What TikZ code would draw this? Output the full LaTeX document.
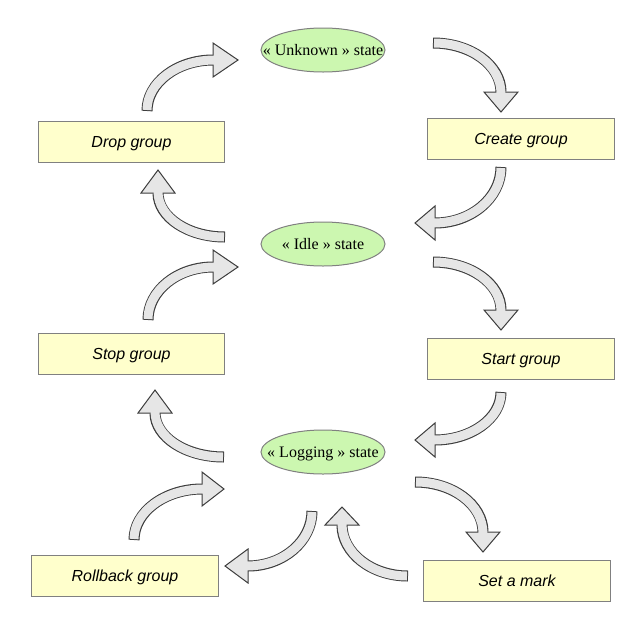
\documentclass[tikz,border=0pt]{standalone}
\usepackage{fontspec}
\setmainfont{Liberation Serif}
\setsansfont{Liberation Sans}
\usetikzlibrary{calc,shapes.geometric}
\definecolor{stateColor}{HTML}{CCF7B0}
\definecolor{actionColor}{HTML}{FFFFCC}
\definecolor{frameColor}{HTML}{808080}
\definecolor{bendFill}{HTML}{E6E6E6}
\definecolor{bendLine}{HTML}{3C3C3C}
% curved block arrow: name, start, corner, shaft end, tip
\newcommand{\bendarrow}[5]{%
  \coordinate (#1-s) at (#2);
  \coordinate (#1-c) at (#3);
  \coordinate (#1-e) at (#4);
  \coordinate (#1-t) at (#5);
  \draw[bendout] (#1-s) .. controls ($(#1-s)!0.55!(#1-c)$) and ($(#1-e)!0.55!(#1-c)$) .. (#1-e);
  \filldraw[bendhead] ($(#1-e)!12.75pt!90:(#1-t)$) -- (#1-t) -- ($(#1-e)!12.75pt!-90:(#1-t)$) -- cycle;
  \draw[bendin] (#1-s) .. controls ($(#1-s)!0.55!(#1-c)$) and ($(#1-e)!0.55!(#1-c)$) .. (#1-e);
}

\begin{document}
\begin{tikzpicture}[x=0.75pt,y=-0.75pt,every node/.style={font=\fontsize{12}{14}\selectfont,text height=10.9pt,text depth=2.5pt}]
  \tikzstyle{base}=[draw=frameColor,line width=0.75pt]
  \tikzstyle{state}=[base,ellipse,fill=stateColor,minimum width=93pt,minimum height=33pt,inner xsep=-13pt,inner ysep=0pt]
  \tikzstyle{action}=[base,rectangle,fill=actionColor,minimum width=140pt,minimum height=30.75pt,font=\sffamily\itshape\fontsize{12}{14}\selectfont]
  \tikzstyle{bendout}=[draw=bendLine,line width=8.25pt]
  \tikzstyle{bendin}=[draw=bendFill,line width=6.75pt,shorten <=0.75pt,shorten >=-1pt]
  \tikzstyle{bendhead}=[fill=bendFill,draw=bendLine,line width=0.75pt,line join=miter]
  \useasboundingbox (0,0) rectangle (639,640);
  % All states
  \node (unknown) [state] at (323,50)  {« Unknown » state};
  \node (idle)    [state] at (323,244) {« Idle » state};
  \node (logging) [state] at (323,452) {« Logging » state};
  % All actions
  \node (drop)     [action] at (131.5,141.5) {Drop group};
  \node (create)   [action] at (521,139)     {Create group};
  \node (stop)     [action] at (131.5,353.5) {Stop group};
  \node (start)    [action] at (521,358.5)   {Start group};
  \node (rollback) [action] at (125,575.5)   {Rollback group};
  \node (setmark)  [action] at (517,580.5)   {Set a mark};
  % Curved arrows
  \bendarrow{dropUnknown}{147,111}{147,60}{213,60}{238,60}
  \bendarrow{unknownCreate}{433,43}{501,43}{501,92}{501,112}
  \bendarrow{createIdle}{501,167}{501,223}{435,223}{415,223}
  \bendarrow{idleDrop}{225,237}{158,237}{158,193}{158,170}
  \bendarrow{stopIdle}{148,320}{148,267}{213,267}{238,267}
  \bendarrow{idleStart}{433,262}{501,262}{501,310}{501,330}
  \bendarrow{startLogging}{501,392}{501,440}{435,440}{415,440}
  \bendarrow{loggingStop}{224,457}{155,457}{155,413}{155,390}
  \bendarrow{rollbackLogging}{134,540}{134,489}{202,489}{224,489}
  \bendarrow{loggingRollback}{312,511}{312,566}{248,566}{225,566}
  \bendarrow{setmarkLogging}{408,576}{342,576}{342,525}{342,507}
  \bendarrow{loggingSetmark}{415,482}{483,482}{483,532}{483,552}
\end{tikzpicture}
\end{document}
